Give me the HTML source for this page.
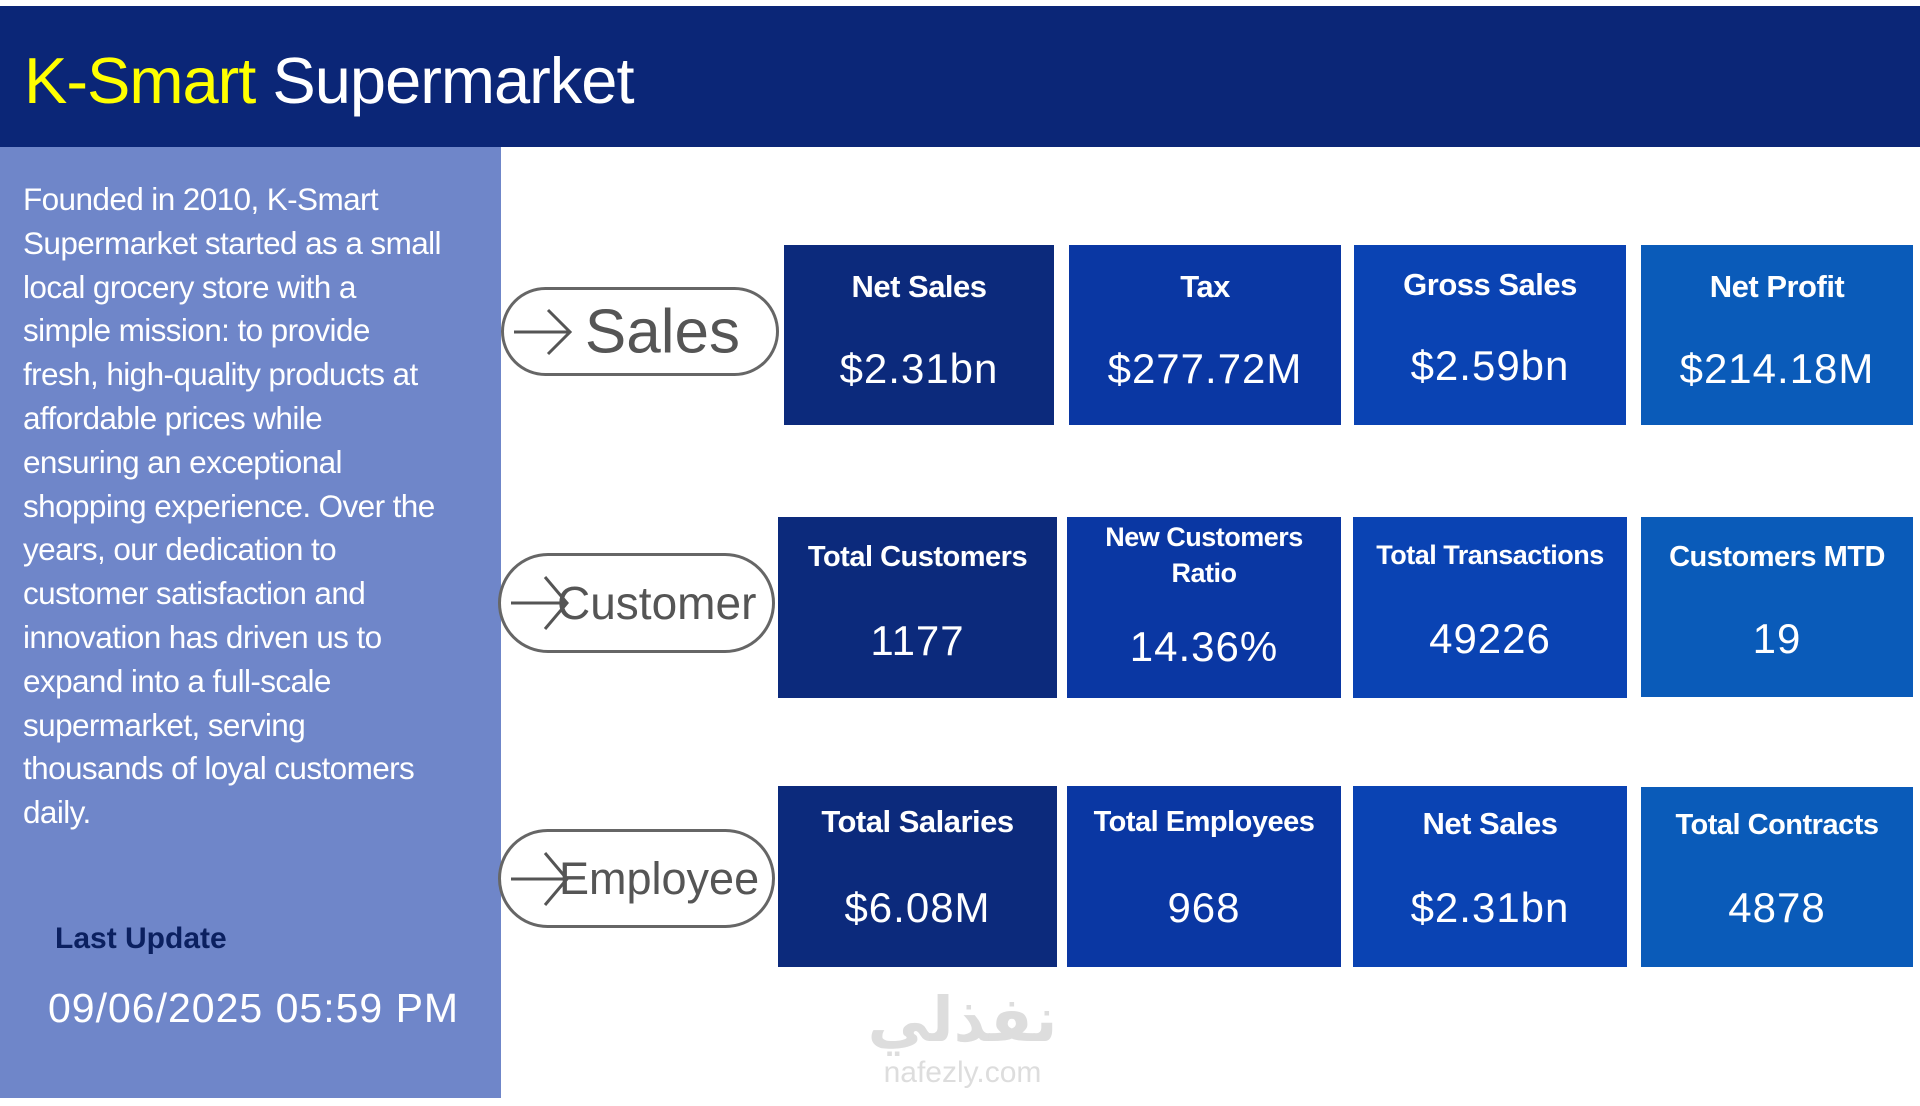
<!DOCTYPE html>
<html><head><meta charset="utf-8"><style>
body{margin:0;width:1920px;height:1106px;background:#fff;position:relative;overflow:hidden;font-family:"Liberation Sans","DejaVu Sans",sans-serif}
.hdr{position:absolute;left:0;top:6px;width:1920px;height:141px;background:#0b2677}
.title{position:absolute;left:24px;top:37px;font-size:65px;color:#fff;letter-spacing:-1px}
.side{position:absolute;left:0;top:147px;width:501px;height:951px;background:#6f86c9}
.desc{position:absolute;left:23px;top:178px;font-size:31.5px;line-height:43.8px;color:#fff;letter-spacing:-0.6px;white-space:nowrap}
.lu{position:absolute;left:55px;top:924px;font-size:30px;font-weight:bold;color:#0b2060}
.dt{position:absolute;left:48px;top:986px;font-size:41px;color:#fff;letter-spacing:1px}
.pill{position:absolute;border:3px solid #666;border-radius:50px;background:#fff;box-sizing:border-box;color:#555}
.pill span{position:absolute;right:14px;top:50%;transform:translateY(-50%);white-space:nowrap}
.pill svg{position:absolute;left:6px;top:50%;transform:translateY(-50%)}
.card{position:absolute;color:#fff;text-align:center;box-sizing:border-box}
.card .t{position:absolute;left:0;right:0;top:26px;font-size:31px;font-weight:bold;line-height:36px;letter-spacing:-0.5px}
.card .v{position:absolute;left:0;right:0;top:98px;font-size:42px;letter-spacing:1px}
.wm{position:absolute;left:855px;top:985px;width:215px;text-align:center;color:#ddd}
</style></head><body>
<div class="hdr">
<div class="title"><span style="color:#ffff00">K-Smart</span> Supermarket</div>
</div>
<div class="side">
<div class="desc" style="top:31px">Founded in 2010, K-Smart<br>Supermarket started as a small<br>local grocery store with a<br>simple mission: to provide<br>fresh, high-quality products at<br>affordable prices while<br>ensuring an exceptional<br>shopping experience. Over the<br>years, our dedication to<br>customer satisfaction and<br>innovation has driven us to<br>expand into a full-scale<br>supermarket, serving<br>thousands of loyal customers<br>daily.</div>
<div class="lu" style="top:775px">Last Update</div>
<div class="dt" style="top:838px">09/06/2025 05:59 PM</div>
</div>

<div class="pill" style="left:501px;top:287px;width:278px;height:89px"><svg width="70" height="60" viewBox="0 0 70 60"><path d="M4 30 H60 M38 8 L60 30 L38 52" stroke="#555" stroke-width="3" fill="none"/></svg><span style="font-size:62px;right:36px">Sales</span></div>
<div class="pill" style="left:498px;top:553px;width:277px;height:100px"><svg width="70" height="60" viewBox="0 0 70 60"><path d="M4 30 H60 M38 4 L60 30 L38 56" stroke="#555" stroke-width="3" fill="none"/></svg><span style="font-size:46px;left:56px;right:auto">Customer</span></div>
<div class="pill" style="left:498px;top:829px;width:277px;height:99px"><svg width="70" height="60" viewBox="0 0 70 60"><path d="M4 30 H60 M38 4 L60 30 L38 56" stroke="#555" stroke-width="3" fill="none"/></svg><span style="font-size:45px;left:58px;right:auto">Employee</span></div>

<div class="card" style="left:784px;top:245px;width:270px;height:180px;background:#0c2a7c"><div class="t" style="top:24px">Net Sales</div><div class="v" style="top:100px">$2.31bn</div></div>
<div class="card" style="left:1069px;top:245px;width:272px;height:180px;background:#0a37a3"><div class="t" style="top:24px">Tax</div><div class="v" style="top:100px">$277.72M</div></div>
<div class="card" style="left:1354px;top:245px;width:272px;height:180px;background:#0a43b3"><div class="t" style="top:22px">Gross Sales</div><div class="v" style="top:97px">$2.59bn</div></div>
<div class="card" style="left:1641px;top:245px;width:272px;height:180px;background:#0a5bb9"><div class="t" style="top:24px">Net Profit</div><div class="v" style="top:100px">$214.18M</div></div>

<div class="card" style="left:778px;top:517px;width:279px;height:181px;background:#0c2a7c"><div class="t" style="top:22px;font-size:29px">Total Customers</div><div class="v" style="top:100px">1177</div></div>
<div class="card" style="left:1067px;top:517px;width:274px;height:181px;background:#0a37a3"><div class="t" style="top:2px;font-size:27px">New Customers<br>Ratio</div><div class="v" style="top:106px">14.36%</div></div>
<div class="card" style="left:1353px;top:517px;width:274px;height:181px;background:#0a43b3"><div class="t" style="top:20px;font-size:27px">Total Transactions</div><div class="v" style="top:98px">49226</div></div>
<div class="card" style="left:1641px;top:517px;width:272px;height:180px;background:#0a5bb9"><div class="t" style="top:22px;font-size:29px">Customers MTD</div><div class="v" style="top:98px">19</div></div>

<div class="card" style="left:778px;top:786px;width:279px;height:181px;background:#0c2a7c"><div class="t" style="top:18px">Total Salaries</div><div class="v" style="top:98px">$6.08M</div></div>
<div class="card" style="left:1067px;top:786px;width:274px;height:181px;background:#0a37a3"><div class="t" style="top:18px;font-size:29px">Total Employees</div><div class="v" style="top:98px">968</div></div>
<div class="card" style="left:1353px;top:786px;width:274px;height:181px;background:#0a43b3"><div class="t" style="top:20px">Net Sales</div><div class="v" style="top:98px">$2.31bn</div></div>
<div class="card" style="left:1641px;top:787px;width:272px;height:180px;background:#0a5bb9"><div class="t" style="top:20px;font-size:29px">Total Contracts</div><div class="v" style="top:97px">4878</div></div>

<div class="wm"><div style="font-size:62px;font-weight:bold;line-height:70px;font-family:'DejaVu Sans',sans-serif">نفذلي</div><div style="font-size:30px;line-height:36px">nafezly.com</div></div>
</body></html>
